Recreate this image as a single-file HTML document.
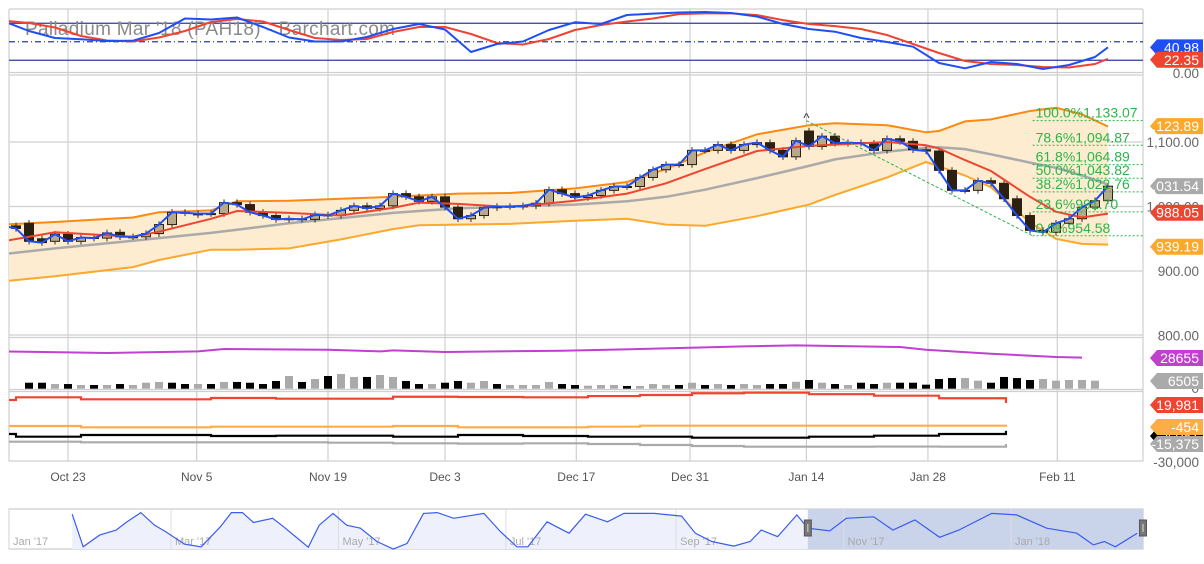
<!DOCTYPE html>
<html><head><meta charset="utf-8"><style>
html,body{margin:0;padding:0;background:#fff;}
svg{display:block;font-family:"Liberation Sans",sans-serif;}
</style></head>
<body>
<svg id="chart" width="1204" height="564" viewBox="0 0 1204 564" xmlns="http://www.w3.org/2000/svg">
<defs>
<clipPath id="clipTop"><rect x="9" y="9" width="1134" height="63"/></clipPath>
<clipPath id="clipMain"><rect x="9" y="75" width="1134" height="260"/></clipPath>
<clipPath id="clipLow"><rect x="9" y="337" width="1134" height="124"/></clipPath>
</defs>
<g id="grid"></g>
<text x="25" y="35" font-size="19" fill="#8a8a8a" textLength="370">Palladium Mar '18 (PAH18) - Barchart.com</text>
<g id="top" clip-path="url(#clipTop)"></g>
<g id="main" clip-path="url(#clipMain)"></g>
<g id="low" clip-path="url(#clipLow)"></g>
<g id="axis"></g>
<g id="nav"></g>
</svg>
<script>
const closes=[970,966,946,944,957,946,952,951,959,953,953,958,972,991,990,989,989,1006,1003,991,986,980,981,980,987,986,994,1001,997,1001,1020,1015,1008,1015,999,981,986,998,1000,1000,1001,1005,1026,1020,1014,1017,1025,1031,1031,1045,1057,1065,1065,1087,1087,1096,1087,1096,1099,1087,1077,1102,1093,1109,1098,1099,1098,1087,1105,1101,1088,1086,1056,1025,1025,1040,1036,1012,986,963,960,974,981,999,1009,1031.5];
const opens=[975,970,974,950,946,957,946,952,951,960,953,953,958,972,991,987,989,989,1006,1003,991,986,980,981,980,987,986,994,1001,997,1001,1020,1015,1008,1015,999,981,986,998,1000,1000,1001,1005,1026,1020,1014,1017,1025,1031,1031,1045,1057,1065,1065,1087,1087,1096,1087,1096,1099,1087,1077,1117,1093,1109,1098,1099,1098,1087,1105,1101,1088,1086,1056,1025,1025,1040,1036,1012,986,963,960,974,981,999,1009];
const bandIdx=[0,4,10,12,16,18,22,26,30,32,35,39,44,48,51,54,58,62,64,68,71,72,74,76,79,81,83,85];
const upperBand=[972,976,983,991,994,1008,1009,1012,1015,1017,1020,1021,1028,1038,1058,1084,1112,1126,1129,1126,1115,1117,1132,1135,1148,1153,1143,1124];
const lowerBand=[884,892,906,917,933,933,935,949,965,971,972,973,978,981,972,970,985,1003,1018,1045,1069,1062,1048,1030,975,950,942,941];
const midBand=[926,935,947,951,959,964,974,982,990,993,997,1000,1003,1008,1015,1026,1044,1063,1073,1085,1091,1092,1089,1081,1068,1060,1048,1034];
const redMA=[946,960,953,961,981,993,990,986,998,1006,1004,999,1009,1020,1036,1058,1086,1094,1096,1100,1095,1090,1072,1055,1015,992,983,989];
const stochIdx=[0,2,4,6,8,10,12,14,16,18,20,22,24,26,28,30,32,34,36,38,40,42,44,46,48,50,52,54,56,58,60,62,64,66,68,70,72,74,76,78,80,82,84,85];
const stochK=[83.6,67.4,56,54,51.2,51.7,64.2,87.7,86,89.3,73.9,56.9,50.4,50.4,57.7,70.6,78.8,69.8,33.4,46.3,50.4,69,81.5,78.7,93.3,95.7,97.4,98.2,96.6,90.9,78.7,70.6,66.3,56,49.6,42,15.6,7,17.2,14,5.8,12.3,25.3,40.98];
const stochD=[84.3,80.4,73.1,59.3,52,50.4,56.9,67.4,82,86.9,82.8,69,56,52.8,54.5,65.8,73.9,73.9,62.6,48,45.5,54.5,69,77.1,82.8,87.7,94.8,96,96,93.2,85.1,78.7,75.4,70.6,60.9,46.4,31.8,18.8,14,12.3,9.1,8.3,13.9,22.35];
const fibLevels=[1133.07,1094.87,1064.89,1043.82,1022.76,991.70,954.58];
const fibPct=['100.0%','78.6%','61.8%','50.0%','38.2%','23.6%','0.0%'];
const fibStartIdx=61.8, fibEndIdx=79.2;
const volumes=[5500,5500,4300,4300,3400,3400,3400,4300,3400,5500,6200,5500,4300,4300,4300,6200,6200,5500,4300,7100,11700,6200,8900,11700,13500,10800,10800,12600,10800,7100,4300,4300,5500,7100,5500,7100,4300,3400,3400,3400,6200,4300,3400,2800,3400,3400,2500,2500,4300,3400,3400,5500,3400,4300,3400,4300,3400,4300,4300,6400,8000,5500,4300,3400,5500,4300,5500,5500,5500,3700,8900,9800,9800,7400,5500,10800,9800,8000,8900,7400,8000,8000,7400];
const volFirstIdx=2;
const volDir="BBGBGBGBGGGBBGBGBBBBGBGBGGBGGBBGBBGGBGGGGB"+"BGGGBGGGBGBGBGGBBGBGBGBBGBBBBBGGBBBBGGGGG";
const oiIdx=[0,5,8,15,17,25,29,30,34,43,49,57,61,69,71,76,81,83];
const oiVals=[34300,33400,32850,34300,36500,35900,34300,35200,33750,34950,36500,38900,39800,38400,35900,32200,29200,28655];
const weekStart=[-1,1,6,11,16,21,25,30,35,40,45,49,53,57,62,67,72];
const weekEnd=77.15;
const cotCommercial=[22600,24900,23200,23200,24300,23700,23700,25400,25200,24900,26000,26900,28400,28900,27600,26300,24100];
const cotCommercialLast=19981;
const cotSmall=[170,170,-950,-950,-430,-430,-430,170,-950,-950,-430,430,430,430,430,430,430];
const cotSmallLast=-454;
const cotLarge=[-6700,-9050,-7600,-7600,-8450,-8200,-8200,-9050,-7600,-8450,-9050,-9050,-9900,-9900,-9050,-8200,-6700];
const cotLargeLast=-4081;
const cotOther=[-13350,-13350,-13900,-13900,-13900,-13900,-14200,-14750,-15000,-14750,-15350,-16200,-17050,-17650,-17650,-17550,-17650];
const cotOtherLast=-15375;
const dateLabels=['Oct 23','Nov 5','Nov 19','Dec 3','Dec 17','Dec 31','Jan 14','Jan 28','Feb 11'];
const dateIdx=[5,14.9,25,34,44.1,52.85,61.8,71.15,81.1];
const navDays=[23,27,33,39,43,48,53,57,64,70,77,81,85,89,96,100,105,109,113,118,123,128,134,140,145,151,156,162,173,179,185,189,196,204,210,218,224,235,245,250,256,264,270,274,280,287,291,299,305,315,322,330,339,346,358,367,378,389,395,399,403,411];
const navVals=[93,7,38,51,73,97,64,47,14,7,60,97,97,71,82,60,30,6,64,95,64,56,21,1,16,95,97,82,95,47,7,7,73,43,93,73,95,95,88,43,21,9,21,51,34,91,56,49,82,86,51,78,32,51,95,91,56,43,12,21,7,43];
const navLabels=["Jan '17","Mar '17","May '17","Jul '17","Sep '17","Nov '17","Jan '18"];
const navLabelDays=[0,59,120,181,243,304,365];
const navSelStartDay=291;

const NS='http://www.w3.org/2000/svg';
const xOf=i=>3+13*i;
const yP=p=>206.5-(p-1000)*0.645;
const yS=v=>72.6-v*0.617;
const yV=v=>388.7-v/920;
const yC=v=>461-(v+30000)*0.00116;
const xNav=d=>171+(d-59)*2.745;
const yNav=v=>549.5-v*0.38;
function mk(tag,attrs,parent){const e=document.createElementNS(NS,tag);for(const k in attrs)e.setAttribute(k,attrs[k]);parent.appendChild(e);return e;}
const G=id=>document.getElementById(id);
const grid=G('grid'),top_=G('top'),main=G('main'),low=G('low'),axis=G('axis'),nav=G('nav');

// frame & grid
let e;
[[9,9,1143,9],[9,72.5,1143,72.5],[9,75,1143,75],[9,335,1143,335],[9,337.5,1143,337.5],[9,389.5,1143,389.5],[9,391.5,1143,391.5],[9,461,1143,461]].forEach(l=>{
 e=mk('line',{x1:l[0],y1:l[1],x2:l[2],y2:l[3],stroke:'#cfcfcf','stroke-width':1.2},grid);
 
 
});
e=mk('line',{x1:9,y1:9,x2:9,y2:461,stroke:'#cfcfcf','stroke-width':1.2},grid);


e=mk('line',{x1:1143,y1:9,x2:1143,y2:461,stroke:'#cfcfcf','stroke-width':1.2},grid);


[1100,1000,900].forEach(p=>{
 e=mk('line',{x1:9,y1:yP(p),x2:1143,y2:yP(p),stroke:'#cfcfcf','stroke-width':1.2},grid);
 
 
});
dateIdx.forEach((d,k)=>{
 e=mk('line',{x1:xOf(d),y1:9,x2:xOf(d),y2:461,stroke:'#d0d0d0','stroke-width':1.2},grid);
 
 
 e=mk('text',{x:xOf(d),y:481,'font-size':12,fill:'#555','text-anchor':'middle'},grid);
 e.textContent=dateLabels[k];
 
 
});
[[80,'none'],[50,'6,3,1,3'],[20,'none']].forEach(r=>{
 e=mk('line',{x1:9,y1:yS(r[0]),x2:1143,y2:yS(r[0]),stroke:'#2d3c9c','stroke-width':1.2,'stroke-dasharray':r[1]},grid);
 
 
});

// stochastic
function pl(idx,vals,xf,yf){return idx.map((d,k)=>xf(d).toFixed(1)+','+yf(vals[k]).toFixed(1)).join(' ');}
e=mk('polyline',{points:pl(stochIdx,stochD,xOf,yS),fill:'none',stroke:'#ee4430','stroke-width':2,'stroke-linejoin':'round'},top_);


e=mk('polyline',{points:pl(stochIdx,stochK,xOf,yS),fill:'none',stroke:'#1f4ef5','stroke-width':2,'stroke-linejoin':'round'},top_);



// bollinger fill
const bandPts=bandIdx.map((d,k)=>xOf(d)+','+yP(upperBand[k])).concat(bandIdx.slice().reverse().map((d,k)=>xOf(d)+','+yP(lowerBand[bandIdx.length-1-k])));
e=mk('polygon',{points:bandPts.join(' '),fill:'#fdecd0'},main);


e=mk('polyline',{points:pl(bandIdx,midBand,xOf,yP),fill:'none',stroke:'#aaa','stroke-width':2.5},main);


e=mk('polyline',{points:pl(bandIdx,upperBand,xOf,yP),fill:'none',stroke:'#f98a12','stroke-width':2},main);


e=mk('polyline',{points:pl(bandIdx,lowerBand,xOf,yP),fill:'none',stroke:'#fca82a','stroke-width':2},main);



// candles
closes.forEach((c,i)=>{
 const o=opens[i],hi=Math.max(o,c)+5,lo=Math.min(o,c)-5,x=xOf(i);
 e=mk('line',{x1:x,y1:yP(hi),x2:x,y2:yP(lo),stroke:'#3a2e1a','stroke-width':1},main);
 
 
 const up=c>=o,t=yP(Math.max(o,c)),b=yP(Math.min(o,c));
 e=mk('rect',{x:x-4.5,y:t,width:9,height:Math.max(1,b-t),fill:up?'#b6a98c':'#2c2110',stroke:'#2c2110','stroke-width':1},main);
 
 
});
e=mk('polyline',{points:pl(bandIdx,redMA,xOf,yP),fill:'none',stroke:'#ee4430','stroke-width':2},main);


e=mk('polyline',{points:closes.map((c,i)=>xOf(i)+','+yP(c).toFixed(1)).join(' '),fill:'none',stroke:'#1f4ef5','stroke-width':2,'stroke-linejoin':'round'},main);



// fibonacci
e=mk('line',{x1:xOf(fibStartIdx),y1:yP(fibLevels[0]),x2:xOf(fibEndIdx),y2:yP(fibLevels[6]),stroke:'#2db34a','stroke-width':1,'stroke-dasharray':'3,2'},main);


e=mk('text',{x:xOf(fibStartIdx),y:yP(fibLevels[0])+2,'font-size':13,fill:'#333','text-anchor':'middle'},main);
e.textContent='^';


fibLevels.forEach((f,k)=>{
 e=mk('line',{x1:xOf(fibEndIdx),y1:yP(f),x2:1143,y2:yP(f),stroke:'#2db34a','stroke-width':1,'stroke-dasharray':'2,2'},main);
 
 
 e=mk('text',{x:xOf(fibEndIdx)+3,y:yP(f)-3,'font-size':14,fill:'#2db34a'},main);
 e.textContent=fibPct[k]+f.toLocaleString('en-US',{minimumFractionDigits:2,maximumFractionDigits:2});
 
 
});

// open interest & volume
e=mk('polyline',{points:pl(oiIdx,oiVals,xOf,yV),fill:'none',stroke:'#c040d0','stroke-width':2},low);


volumes.forEach((v,k)=>{
 const i=k+volFirstIdx;
 e=mk('rect',{x:xOf(i)-4,y:yV(v),width:8,height:388.7-yV(v),fill:volDir[k]==='B'?'#000':'#aaa'},low);
 
 
});
// COT steps
function steps(vals,last,color,name){
 let pts=[];
 vals.forEach((v,k)=>{const x1=xOf(weekStart[k]),x2=k+1<vals.length?xOf(weekStart[k+1]):xOf(weekEnd);pts.push(x1+','+yC(v),x2+','+yC(v));});
 pts.push(xOf(weekEnd)+','+yC(last));
 const el=mk('polyline',{points:pts.join(' '),fill:'none',stroke:color,'stroke-width':2.2},low);
 return el;
}
e=steps(cotCommercial,cotCommercialLast,'#ee4430');


e=steps(cotSmall,cotSmallLast,'#fcad48');


e=steps(cotLarge,cotLargeLast,'#000');


e=steps(cotOther,cotOtherLast,'#aaa');



// right axis
function plain(y,t){const el=mk('text',{x:1199,y:y+5,'font-size':13.5,fill:'#666','text-anchor':'end'},axis);el.textContent=t;return el;}
function tag(y,color,t){
 const g=mk('g',{},axis);
 mk('polygon',{points:`1150,${y} 1157,${y-8} 1203,${y-8} 1203,${y+8} 1157,${y+8}`,fill:color},g);
 const tx=mk('text',{x:1199,y:y+5,'font-size':14,fill:'#fff','text-anchor':'end'},g);tx.textContent=t;
 return g;
}
e=plain(73,'0.00');
e=plain(yP(1100),'1,100.00');
e=plain(yP(1000),'1,000.00');
e=plain(yP(900),'900.00');
e=plain(yP(800),'800.00');
e=plain(388,'0');
e=plain(462,'-30,000');
e=tag(yS(stochK[stochK.length-1]),'#1f4ef5',stochK[stochK.length-1].toFixed(2));
e=tag(yS(stochD[stochD.length-1])+1,'#ee4430',stochD[stochD.length-1].toFixed(2));
e=tag(yP(1123.89)-0.5,'#fca82a','1,123.89');
e=tag(yP(1031.54),'#aaa','1,031.54');
e=tag(yP(988.05)-1.5,'#ee4430','988.05');
e=tag(yP(939.19)+1,'#fca82a','939.19');
e=tag(358,'#c040d0','28655');
e=tag(381,'#aaa','6505');
e=tag(405,'#ee4430','19,981');
e=tag(436,'#000','-4,081');
e=tag(444,'#aaa','-15,375');
e=tag(427,'#fcad48','-454');

// navigator
e=mk('rect',{x:9,y:509,width:1134,height:40,fill:'#fff',stroke:'#ccc','stroke-width':1.2},nav);


const navArea=[xNav(navDays[0])+',549'].concat(navDays.map((d,k)=>xNav(d).toFixed(1)+','+yNav(navVals[k]).toFixed(1))).concat([xNav(navDays[navDays.length-1])+',549']);
e=mk('polygon',{points:navArea.join(' '),fill:'#eef1fb'},nav);


e=mk('rect',{x:xNav(navSelStartDay),y:509,width:1143-xNav(navSelStartDay),height:40,fill:'#c9d3ea'},nav);


navLabelDays.forEach((d,k)=>{
 e=mk('line',{x1:xNav(d),y1:509,x2:xNav(d),y2:549,stroke:'#ddd','stroke-width':1},nav);
 
 
 e=mk('text',{x:xNav(d)+4,y:545,'font-size':11,fill:'#aaa'},nav);
 e.textContent=navLabels[k];
 
 
});
e=mk('polyline',{points:navDays.map((d,k)=>xNav(d).toFixed(1)+','+yNav(navVals[k]).toFixed(1)).join(' '),fill:'none',stroke:'#3a5cf0','stroke-width':1.2},nav);


[xNav(navSelStartDay),1143].forEach(x=>{
 e=mk('rect',{x:x-3.5,y:520,width:7,height:16,fill:'#777',stroke:'#555','stroke-width':1},nav);
 
 
 e=mk('line',{x1:x,y1:524,x2:x,y2:532,stroke:'#ddd','stroke-width':1},nav);
 
 
});
</script>
</body></html>
